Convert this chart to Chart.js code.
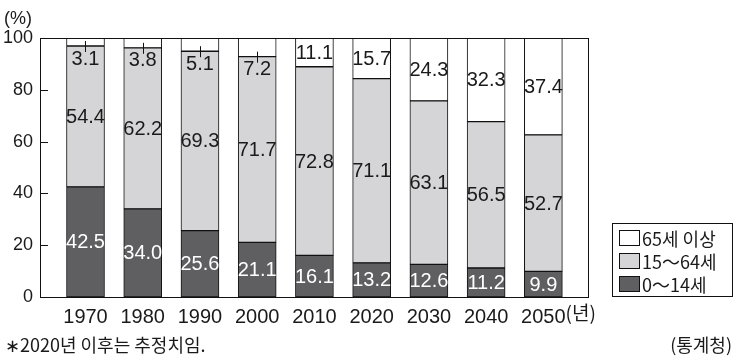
<!DOCTYPE html>
<html>
<head>
<meta charset="utf-8">
<script src="https://cdn.jsdelivr.net/npm/chart.js@4"></script>
<style>
    body { margin: 0; background: #fff; }
    #wrap { width: 738px; height: 359px; position: relative; }
</style>
</head>
<body>
<div id="wrap"><canvas id="popChart" width="738" height="359"></canvas></div>
<script>
// Data (%)
const years = [1970, 1980, 1990, 2000, 2010, 2020, 2030, 2040, 2050];
const age0to14 = [42.5, 34.0, 25.6, 21.1, 16.1, 13.2, 12.6, 11.2, 9.9];
const age15to64 = [54.4, 62.2, 69.3, 71.7, 72.8, 71.1, 63.1, 56.5, 52.7];
const age65plus = [3.1, 3.8, 5.1, 7.2, 11.1, 15.7, 24.3, 32.3, 37.4];
const yTicks = [0, 20, 40, 60, 80, 100];
const seriesNames = ['0～14세', '15～64세', '65세 이상'];

const FONT = '"Liberation Sans", "Noto Sans CJK KR", Arial, sans-serif';
const KFONT = '"Noto Sans CJK KR", "Liberation Sans", sans-serif';
const colors = ['#5f5f62', '#d5d5d7', '#ffffff'];

function toPoints(values) {
    return years.map((yr, i) => ({ x: yr, y: values[i] }));
}

// labels, leader ticks, frame, legend and notes
const decorPlugin = {
    id: 'decor',
    afterDatasetsDraw(chart) {
        const ctx = chart.ctx;
        const area = chart.chartArea;
        const xs = chart.scales.x;
        const ys = chart.scales.y;

        ctx.save();
        ctx.strokeStyle = '#111';
        ctx.lineWidth = 1;

        // plot frame
        ctx.strokeRect(Math.round(area.left) + 0.5, Math.round(area.top) + 0.5,
            Math.round(area.right - area.left), Math.round(area.bottom - area.top));

        // inside tick marks
        yTicks.forEach(v => {
            if (v === 0 || v === 100) return;
            const py = Math.round(ys.getPixelForValue(v)) + 0.5;
            ctx.beginPath();
            ctx.moveTo(area.left, py);
            ctx.lineTo(area.left + 8, py);
            ctx.stroke();
        });

        // value labels
        ctx.font = '20px ' + FONT;
        ctx.textAlign = 'center';
        ctx.textBaseline = 'middle';
        years.forEach((yr, i) => {
            const px = xs.getPixelForValue(yr);
            const a = age0to14[i], b = age15to64[i], c = age65plus[i];
            ctx.fillStyle = '#fff';
            ctx.fillText(a.toFixed(1), px, ys.getPixelForValue(a / 2) + 1);
            ctx.fillStyle = '#1a1a1a';
            ctx.fillText(b.toFixed(1), px, ys.getPixelForValue(a + b / 2) + 1);
            const edge = ys.getPixelForValue(a + b);
            if (c < 10) {
                const ex = Math.round(px) + 0.5;
                ctx.beginPath();
                ctx.moveTo(ex, edge - 5);
                ctx.lineTo(ex, edge + 6);
                ctx.stroke();
                ctx.fillText(c.toFixed(1), px, edge + 13);
            } else {
                ctx.fillText(c.toFixed(1), px, ys.getPixelForValue(a + b + c / 2) + 1);
            }
        });

        // axis unit labels
        ctx.font = '18px ' + FONT;
        ctx.textAlign = 'left';
        ctx.fillText('(%)', 4, 19);
        ctx.font = '20px ' + FONT;
        const lastX = xs.getPixelForValue(years[years.length - 1]);
        const w2050 = ctx.measureText(String(years[years.length - 1])).width;
        ctx.font = '19px ' + KFONT;
        ctx.fillText('(년)', lastX + w2050 / 2, 313);

        // legend box
        ctx.strokeRect(612.5, 223.5, 120, 73);
        ctx.font = '18px ' + KFONT;
        const rows = [2, 1, 0];
        rows.forEach((s, r) => {
            const cy = 238 + r * 23;
            ctx.fillStyle = colors[s];
            ctx.fillRect(619.5, cy - 7.5, 20, 15);
            ctx.strokeRect(619.5, cy - 7.5, 20, 15);
            ctx.fillStyle = '#1a1a1a';
            ctx.fillText(seriesNames[s], 642, cy + 1);
        });

        // notes
        ctx.font = '18px ' + KFONT;
        ctx.fillText('∗2020년 이후는 추정치임.', 5, 345);
        ctx.textAlign = 'right';
        ctx.fillText('(통계청)', 732, 345);
        ctx.restore();
    }
};

new Chart(document.getElementById('popChart'), {
    type: 'bar',
    data: {
        datasets: [
            { label: seriesNames[0], data: toPoints(age0to14), backgroundColor: colors[0] },
            { label: seriesNames[1], data: toPoints(age15to64), backgroundColor: colors[1] },
            { label: seriesNames[2], data: toPoints(age65plus), backgroundColor: colors[2] }
        ].map(d => ({ ...d, borderColor: '#111', borderWidth: 1, borderSkipped: false, barThickness: 38 }))
    },
    options: {
        responsive: false,
        animation: false,
        layout: { padding: { top: 38, right: 150, bottom: 32, left: 0 } },
        plugins: { legend: { display: false }, tooltip: { enabled: false } },
        scales: {
            x: {
                type: 'linear',
                stacked: true,
                offset: false,
                min: 1962.05,
                max: 2057.8,
                grid: { display: false, drawTicks: false, offset: false },
                border: { display: false },
                afterFit: scale => { scale.height = 30; },
                ticks: {
                    stepSize: 10,
                    includeBounds: false,
                    padding: 8,
                    color: '#1a1a1a',
                    font: { family: FONT, size: 20 },
                    callback: v => years.includes(v) ? String(v) : ''
                }
            },
            y: {
                stacked: true,
                min: 0,
                max: 100,
                grid: { display: false, drawTicks: false },
                border: { display: false },
                afterFit: scale => { scale.width = 40; },
                ticks: {
                    stepSize: 20,
                    padding: 7,
                    color: '#1a1a1a',
                    font: { family: FONT, size: 18 },
                    callback: v => yTicks.includes(v) ? String(v) : ''
                }
            }
        }
    },
    plugins: [decorPlugin]
});
</script>
</body>
</html>
